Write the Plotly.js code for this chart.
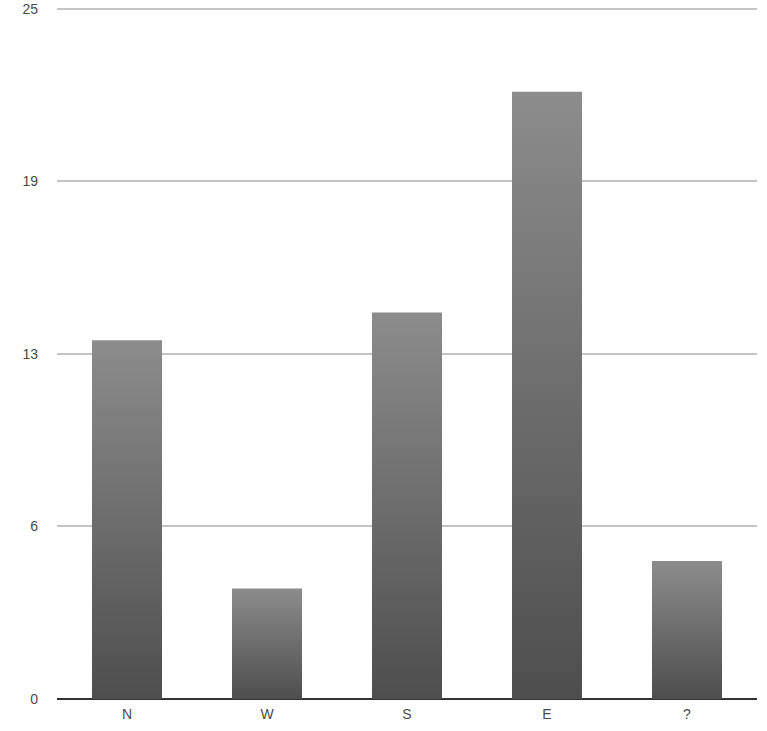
<!DOCTYPE html>
<html>
<head>
<meta charset="utf-8">
<script src="https://cdn.plot.ly/plotly-3.0.1.min.js"></script>
<style>html,body{margin:0;padding:0;background:#fff;}#chart{width:767px;height:731px;}</style>
</head>
<body>
<div id="chart"></div>
<script>
var categories = ['N', 'W', 'S', 'E', '?'];
var values = [13, 4, 14, 22, 5];
var yTickVals = [0, 6.25, 12.5, 18.75, 25];
var yTickText = ['0', '6', '13', '19', '25'];

var barHalfWidth = 0.25;
var traces = categories.map(function (c, i) {
  var v = values[i];
  return {
    type: 'scatter',
    mode: 'lines',
    x: [i - barHalfWidth, i + barHalfWidth, i + barHalfWidth, i - barHalfWidth, i - barHalfWidth],
    y: [0, 0, v, v, 0],
    fill: 'toself',
    fillgradient: {
      type: 'vertical',
      colorscale: [[0, '#4e4e4e'], [1, '#8c8c8c']]
    },
    line: {width: 0, color: 'rgba(0,0,0,0)'},
    hoverinfo: 'skip',
    name: c,
    showlegend: false
  };
});

var layout = {
  width: 767,
  height: 731,
  margin: {l: 57, r: 10, t: 7, b: 32},
  paper_bgcolor: '#ffffff',
  plot_bgcolor: '#ffffff',
  showlegend: false,
  font: {family: 'Liberation Sans, Arial, sans-serif', size: 14, color: '#4a4a4a'},
  xaxis: {
    range: [-0.5, 4.5],
    tickvals: categories.map(function (c, i) { return i; }),
    ticktext: categories,
    showgrid: false,
    zeroline: false,
    showline: false,
    ticks: '',
    ticklabelstandoff: 5,
    fixedrange: true
  },
  yaxis: {
    range: [0, 25.07],
    tickvals: yTickVals,
    ticktext: yTickText,
    showgrid: true,
    gridcolor: '#c4c4c4',
    gridwidth: 2,
    zeroline: true,
    zerolinecolor: '#333333',
    zerolinewidth: 2,
    showline: false,
    ticks: '',
    ticklabelstandoff: 18,
    fixedrange: true
  }
};

Plotly.newPlot('chart', traces, layout, {displayModeBar: false, staticPlot: true});
</script>
</body>
</html>
